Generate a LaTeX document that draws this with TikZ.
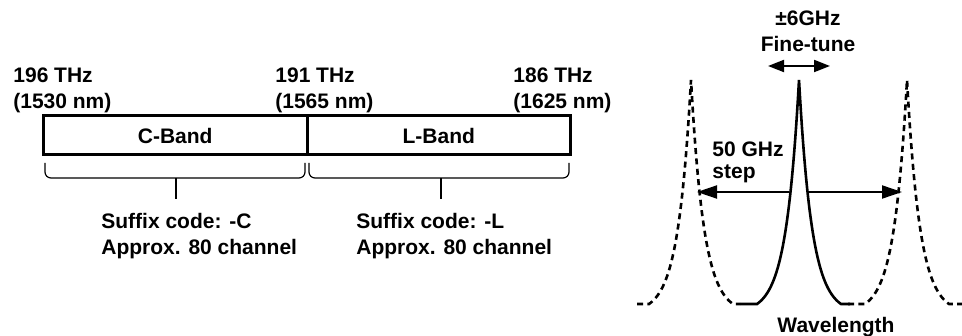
\documentclass[tikz,border=0pt]{standalone}
\usepackage{fontspec}
\setmainfont{Liberation Sans}
\usetikzlibrary{positioning,arrows.meta}

\begin{document}
\begin{tikzpicture}[x=0.5pt, y=-0.5pt, font=\fontsize{10.5}{13}\selectfont\bfseries,
  declare function={pk(\d)=224*(exp(-abs(\d)/13)-0.0395)/0.9605;},
  band/.style={draw, line width=1.5pt, minimum width=131.75pt, minimum height=19.5pt, inner sep=0pt, outer sep=0pt},
  lbl/.style={anchor=base west, align=left, inner sep=0pt},
  brk/.style={line width=0.6pt, rounded corners=3pt},
  peak/.style={line width=1.3pt},
  dpeak/.style={line width=1.3pt, dash pattern=on 3pt off 2.2pt},
  spacing/.style={line width=1pt, -{Triangle[length=10pt, width=6.5pt]}}]
\useasboundingbox (0,0) rectangle (962,336);
% the two bands (labels anchored at their last line)
\node[band] (cband) at (175.25,135.5) {C-Band};
\node[band, right=0pt of cband] (lband) {L-Band};
\node[lbl] (f196) at (13,109) {196 THz\\(1530 nm)};
\node[lbl] (f191) at (275,109) {191 THz\\(1565 nm)};
\node[lbl] (f186) at (513,109) {186 THz\\(1625 nm)};
\draw[brk] (45,163) -- (45,178) -- (305,178) -- (305,163);
\draw[brk] (309,163) -- (309,178) -- (569,178) -- (569,163);
\coordinate (cmid) at (176,178);
\coordinate (lmid) at (441,178);
\draw[line width=0.6pt] (cmid) -- ++(0,21);
\draw[line width=0.6pt] (lmid) -- ++(0,21);
\node[lbl] (csuf) at (101,254) {Suffix code: -C\\Approx. 80 channel};
\node[lbl] (lsuf) at (356,254) {Suffix code: -L\\Approx. 80 channel};
% channel peaks
\draw[peak] (740,304) -- (757,304) -- plot[domain=-42:42, samples=85] ({799+\x},{304-pk(\x)}) -- (850,304);
\foreach \c/\a/\b in {691/637/740, 907/848/962}
  \draw[dpeak] (\a,304) -- ({\c-42},304) -- plot[domain=-42:42, samples=85] ({\c+\x},{304-pk(\x)}) -- (\b,304);
\coordinate (sL0) at (789,192);
\coordinate (sL1) at (697,192);
\coordinate (sR0) at (807,192);
\coordinate (sR1) at (902,192);
\draw[spacing] (sL0) -- (sL1);
\draw[spacing] (sR0) -- (sR1);
\node[lbl] (stepl) at (712,178) {50 GHz\\[-2.5pt]step};
\coordinate (ftL) at (768,66);
\coordinate (ftR) at (830,66);
\draw[line width=1pt, {Triangle[length=8pt, width=6pt]}-{Triangle[length=8pt, width=6pt]}] (ftL) -- (ftR);
\node[anchor=base, align=center, inner sep=0pt] (fine) at (808,52) {±6GHz\\Fine-tune};
\node[anchor=base, inner sep=0pt] (wl) at (836,332) {Wavelength};
\end{tikzpicture}
\end{document}
